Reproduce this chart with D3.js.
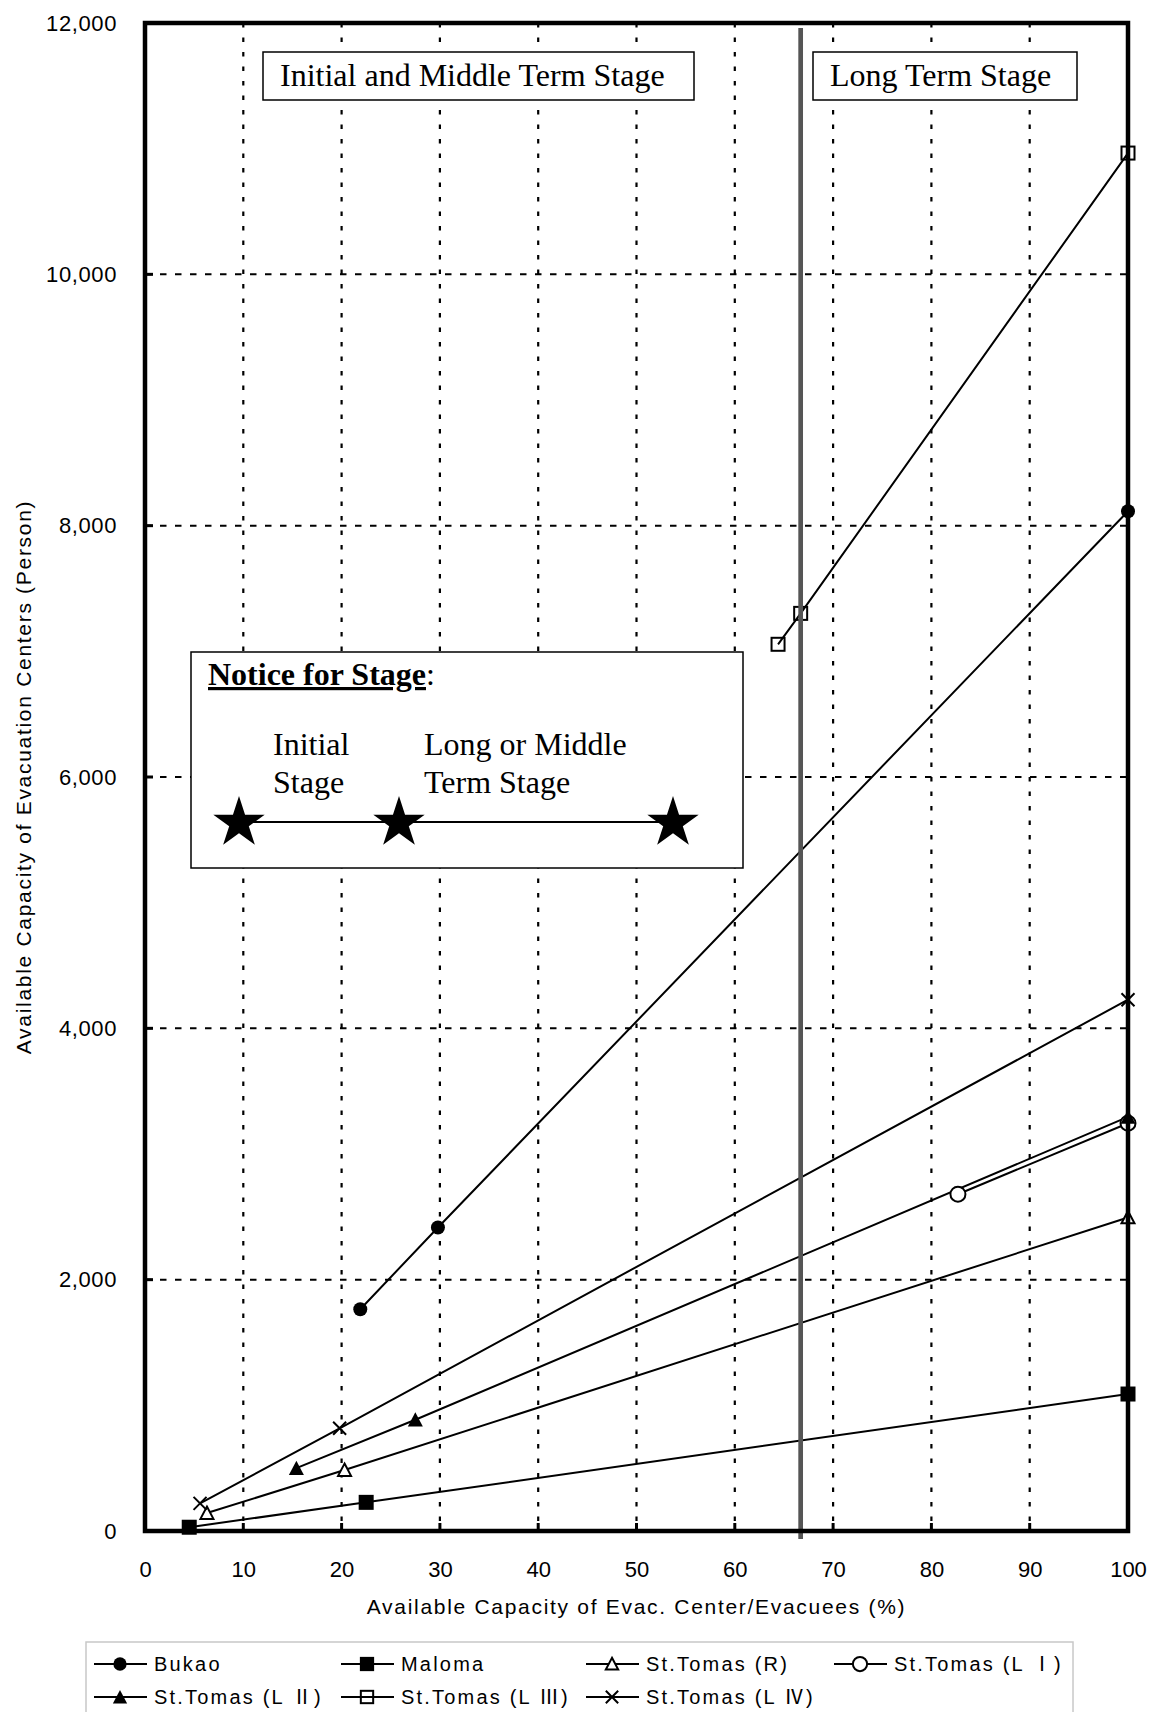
<!DOCTYPE html>
<html><head><meta charset="utf-8">
<script src="https://cdn.jsdelivr.net/npm/d3@7"></script>
<style>
body{margin:0;background:#fff}
.sans{font-family:"Liberation Sans",Arial,"Noto Sans CJK JP",sans-serif}
.serif{font-family:"Liberation Serif","Times New Roman",serif}
</style>
</head><body><svg id="c" width="1149" height="1712"></svg>
<script>
// ---------- data ----------
const seriesNames = ["Bukao","Maloma","St.Tomas (R)","St.Tomas (L Ⅰ)","St.Tomas (L Ⅱ)","St.Tomas (L Ⅲ)","St.Tomas (L Ⅳ)"];
const bukaoX = [21.9, 29.8, 100],   bukaoY = [1765, 2415, 8115];
const malomaX = [4.5, 22.5, 100],   malomaY = [30, 228, 1090];
const tomasRX = [6.3, 20.3, 100],   tomasRY = [143, 485, 2495];
const tomasL1X = [82.7, 100],       tomasL1Y = [2680, 3245];
const tomasL2X = [15.4, 27.5, 100], tomasL2Y = [500, 885, 3295];
const tomasL3X = [64.4, 66.7, 100], tomasL3Y = [7056, 7302, 10965];
const tomasL4X = [5.6, 19.8, 100],  tomasL4Y = [220, 817, 4228];
const xTicks = [0,10,20,30,40,50,60,70,80,90,100];
const yTicks = [0,2000,4000,6000,8000,10000,12000];
const stageBoundary = [66.7];
const stageLabels = ["Initial and Middle Term Stage","Long Term Stage"];
const xTitle = "Available Capacity of Evac. Center/Evacuees (%)";
const yTitle = "Available Capacity of Evacuation Centers (Person)";

const seriesXs = [bukaoX, malomaX, tomasRX, tomasL1X, tomasL2X, tomasL3X, tomasL4X];
const seriesYs = [bukaoY, malomaY, tomasRY, tomasL1Y, tomasL2Y, tomasL3Y, tomasL4Y];
const markerKinds = ["circleF","squareF","triO","circleO","triF","squareO","x"];

// ---------- layout ----------
const svg = d3.select("#c");
const L = 145, R = 1128, T = 23, B = 1531;
const x = d3.scaleLinear().domain([0,100]).range([L,R]);
const y = d3.scaleLinear().domain([0,12000]).range([B,T]);

// grid
const g = svg.append("g");
g.selectAll(".vg").data(xTicks.filter(d=>d>0&&d<100)).join("line")
  .attr("x1",d=>x(d)).attr("x2",d=>x(d)).attr("y1",T).attr("y2",B)
  .attr("stroke","#000").attr("stroke-width",2.2).attr("stroke-dasharray","4.5,10");
g.selectAll(".hg").data(yTicks.filter(d=>d>0&&d<12000)).join("line")
  .attr("x1",L).attr("x2",R).attr("y1",d=>y(d)).attr("y2",d=>y(d))
  .attr("stroke","#000").attr("stroke-width",2).attr("stroke-dasharray","6.5,8.5");
// inner ticks
g.selectAll(".xt").data(xTicks).join("line")
  .attr("x1",d=>x(d)).attr("x2",d=>x(d)).attr("y1",B).attr("y2",B-8)
  .attr("stroke","#000").attr("stroke-width",3);
g.selectAll(".yt").data(yTicks).join("line")
  .attr("x1",L).attr("x2",L+8).attr("y1",d=>y(d)).attr("y2",d=>y(d))
  .attr("stroke","#000").attr("stroke-width",3);

// axes labels via d3 axes
const xa = svg.append("g").attr("transform",`translate(0,${B})`)
  .call(d3.axisBottom(x).tickValues(xTicks).tickSize(0).tickPadding(30).tickFormat(d3.format("d")));
xa.select(".domain").remove();
xa.selectAll("text").attr("font-size",22).attr("fill","#000")
  .style("font-family",'"Liberation Sans",Arial,sans-serif');
const ya = svg.append("g").attr("transform",`translate(${L},0)`)
  .call(d3.axisLeft(y).tickValues(yTicks).tickSize(0).tickPadding(28).tickFormat(d3.format(",")));
ya.select(".domain").remove();
ya.selectAll("text").attr("font-size",22).attr("fill","#000").attr("letter-spacing",0.6)
  .style("font-family",'"Liberation Sans",Arial,sans-serif');

// axis titles
svg.append("text").attr("class","sans").attr("x",(L+R)/2).attr("y",1614)
  .attr("text-anchor","middle").attr("font-size",21).attr("letter-spacing",1.7).text(xTitle);
svg.append("text").attr("class","sans").attr("transform",`translate(31,${(T+B)/2}) rotate(-90)`)
  .attr("text-anchor","middle").attr("font-size",21).attr("letter-spacing",1.7).text(yTitle);

// stage label boxes
const sb = svg.append("g");
sb.append("rect").attr("x",263).attr("y",52).attr("width",431).attr("height",48)
  .attr("fill","#fff").attr("stroke","#000").attr("stroke-width",1.5);
sb.append("text").attr("class","serif").attr("x",280).attr("y",86).attr("font-size",32).text(stageLabels[0]);
sb.append("rect").attr("x",813).attr("y",52).attr("width",264).attr("height",48)
  .attr("fill","#fff").attr("stroke","#000").attr("stroke-width",1.5);
sb.append("text").attr("class","serif").attr("x",830).attr("y",86).attr("font-size",32).text(stageLabels[1]);

// notice box
const nb = svg.append("g");
nb.append("rect").attr("x",191).attr("y",652).attr("width",552).attr("height",216)
  .attr("fill","#fff").attr("stroke","#000").attr("stroke-width",1.5);
const nt = nb.append("text").attr("class","serif").attr("x",208).attr("y",685).attr("font-size",32);
nt.append("tspan").attr("font-weight","bold").attr("text-decoration","underline").text("Notice for Stage");
nt.append("tspan").text(":");
nb.append("text").attr("class","serif").attr("x",273).attr("y",755).attr("font-size",32).text("Initial");
nb.append("text").attr("class","serif").attr("x",273).attr("y",793).attr("font-size",32).text("Stage");
nb.append("text").attr("class","serif").attr("x",424).attr("y",755).attr("font-size",32).text("Long or Middle");
nb.append("text").attr("class","serif").attr("x",424).attr("y",793).attr("font-size",32).text("Term Stage");
nb.append("line").attr("x1",239).attr("x2",673).attr("y1",822).attr("y2",822).attr("stroke","#000").attr("stroke-width",2);
function starPath(cx,cy,Ro){
  const Ri = Ro*0.382, pts=[];
  for(let i=0;i<10;i++){const r=i%2?Ri:Ro; const a=-Math.PI/2+i*Math.PI/5; pts.push([cx+r*Math.cos(a),cy+r*Math.sin(a)]);}
  return "M"+pts.map(p=>p.join(",")).join("L")+"Z";
}
[239,399,673].forEach(cx=>nb.append("path").attr("d",starPath(cx,823,27)).attr("fill","#000"));

// series lines
const line = d3.line().x(d=>x(d[0])).y(d=>y(d[1]));
const seriesPts = seriesXs.map((xs,i)=>xs.map((v,j)=>[v,seriesYs[i][j]]));
svg.append("g").selectAll("path").data(seriesPts).join("path")
  .attr("d",line).attr("fill","none").attr("stroke","#000").attr("stroke-width",2);

// markers
function marker(sel, kind, s){
  s = s||1;
  if(kind==="circleF") sel.append("circle").attr("r",7*s).attr("fill","#000");
  else if(kind==="circleO") sel.append("circle").attr("r",7.5*s).attr("fill","#fff").attr("stroke","#000").attr("stroke-width",2);
  else if(kind==="squareF") sel.append("rect").attr("x",-7.5*s).attr("y",-7.5*s).attr("width",15*s).attr("height",15*s).attr("fill","#000");
  else if(kind==="squareO") sel.append("rect").attr("x",-6.5*s).attr("y",-6.5*s).attr("width",13*s).attr("height",13*s).attr("fill","none").attr("stroke","#000").attr("stroke-width",2);
  else if(kind==="triF"){const h=7.5*s; sel.append("path").attr("d",`M0,${-h}L${h},${h*0.9}L${-h},${h*0.9}Z`).attr("fill","#000");}
  else if(kind==="triO"){const h=6.5*s; sel.append("path").attr("d",`M0,${-h}L${h},${h*0.9}L${-h},${h*0.9}Z`).attr("fill","#fff").attr("stroke","#000").attr("stroke-width",2);}
  else if(kind==="x"){const h=6.5*s; sel.append("path").attr("d",`M${-h},${-h}L${h},${h}M${-h},${h}L${h},${-h}`).attr("stroke","#000").attr("stroke-width",2);}
}
seriesPts.forEach((pts,i)=>{
  const mg = svg.append("g");
  pts.forEach(p=>{
    const m = mg.append("g").attr("transform",`translate(${x(p[0])},${y(p[1])})`);
    marker(m, markerKinds[i]);
  });
});

// stage boundary line
svg.selectAll(".sbl").data(stageBoundary).join("line")
  .attr("x1",d=>x(d)).attr("x2",d=>x(d)).attr("y1",28).attr("y2",B+8)
  .attr("stroke","#555").attr("stroke-width",4.7);

// frame
svg.append("rect").attr("x",L).attr("y",T).attr("width",R-L).attr("height",B-T)
  .attr("fill","none").attr("stroke","#000").attr("stroke-width",4.5);

// legend
const lg = svg.append("g");
lg.append("rect").attr("x",86).attr("y",1642).attr("width",987).attr("height",90)
  .attr("fill","#fff").attr("stroke","#c8c8c8").attr("stroke-width",1.5);
const colX = [94,341,586,834];
const rowY = [1664,1697];
seriesNames.forEach((name,i)=>{
  const cx = colX[i%4], cy = rowY[Math.floor(i/4)];
  const it = lg.append("g").attr("transform",`translate(${cx},${cy})`);
  it.append("line").attr("x1",0).attr("x2",53).attr("stroke","#000").attr("stroke-width",2);
  const m = it.append("g").attr("transform","translate(26,0)");
  marker(m, markerKinds[i], 0.95);
  it.append("text").attr("class","sans").attr("x",60).attr("y",7).attr("font-size",20)
    .attr("letter-spacing",2.2).text(name);
});
</script>
</body></html>
